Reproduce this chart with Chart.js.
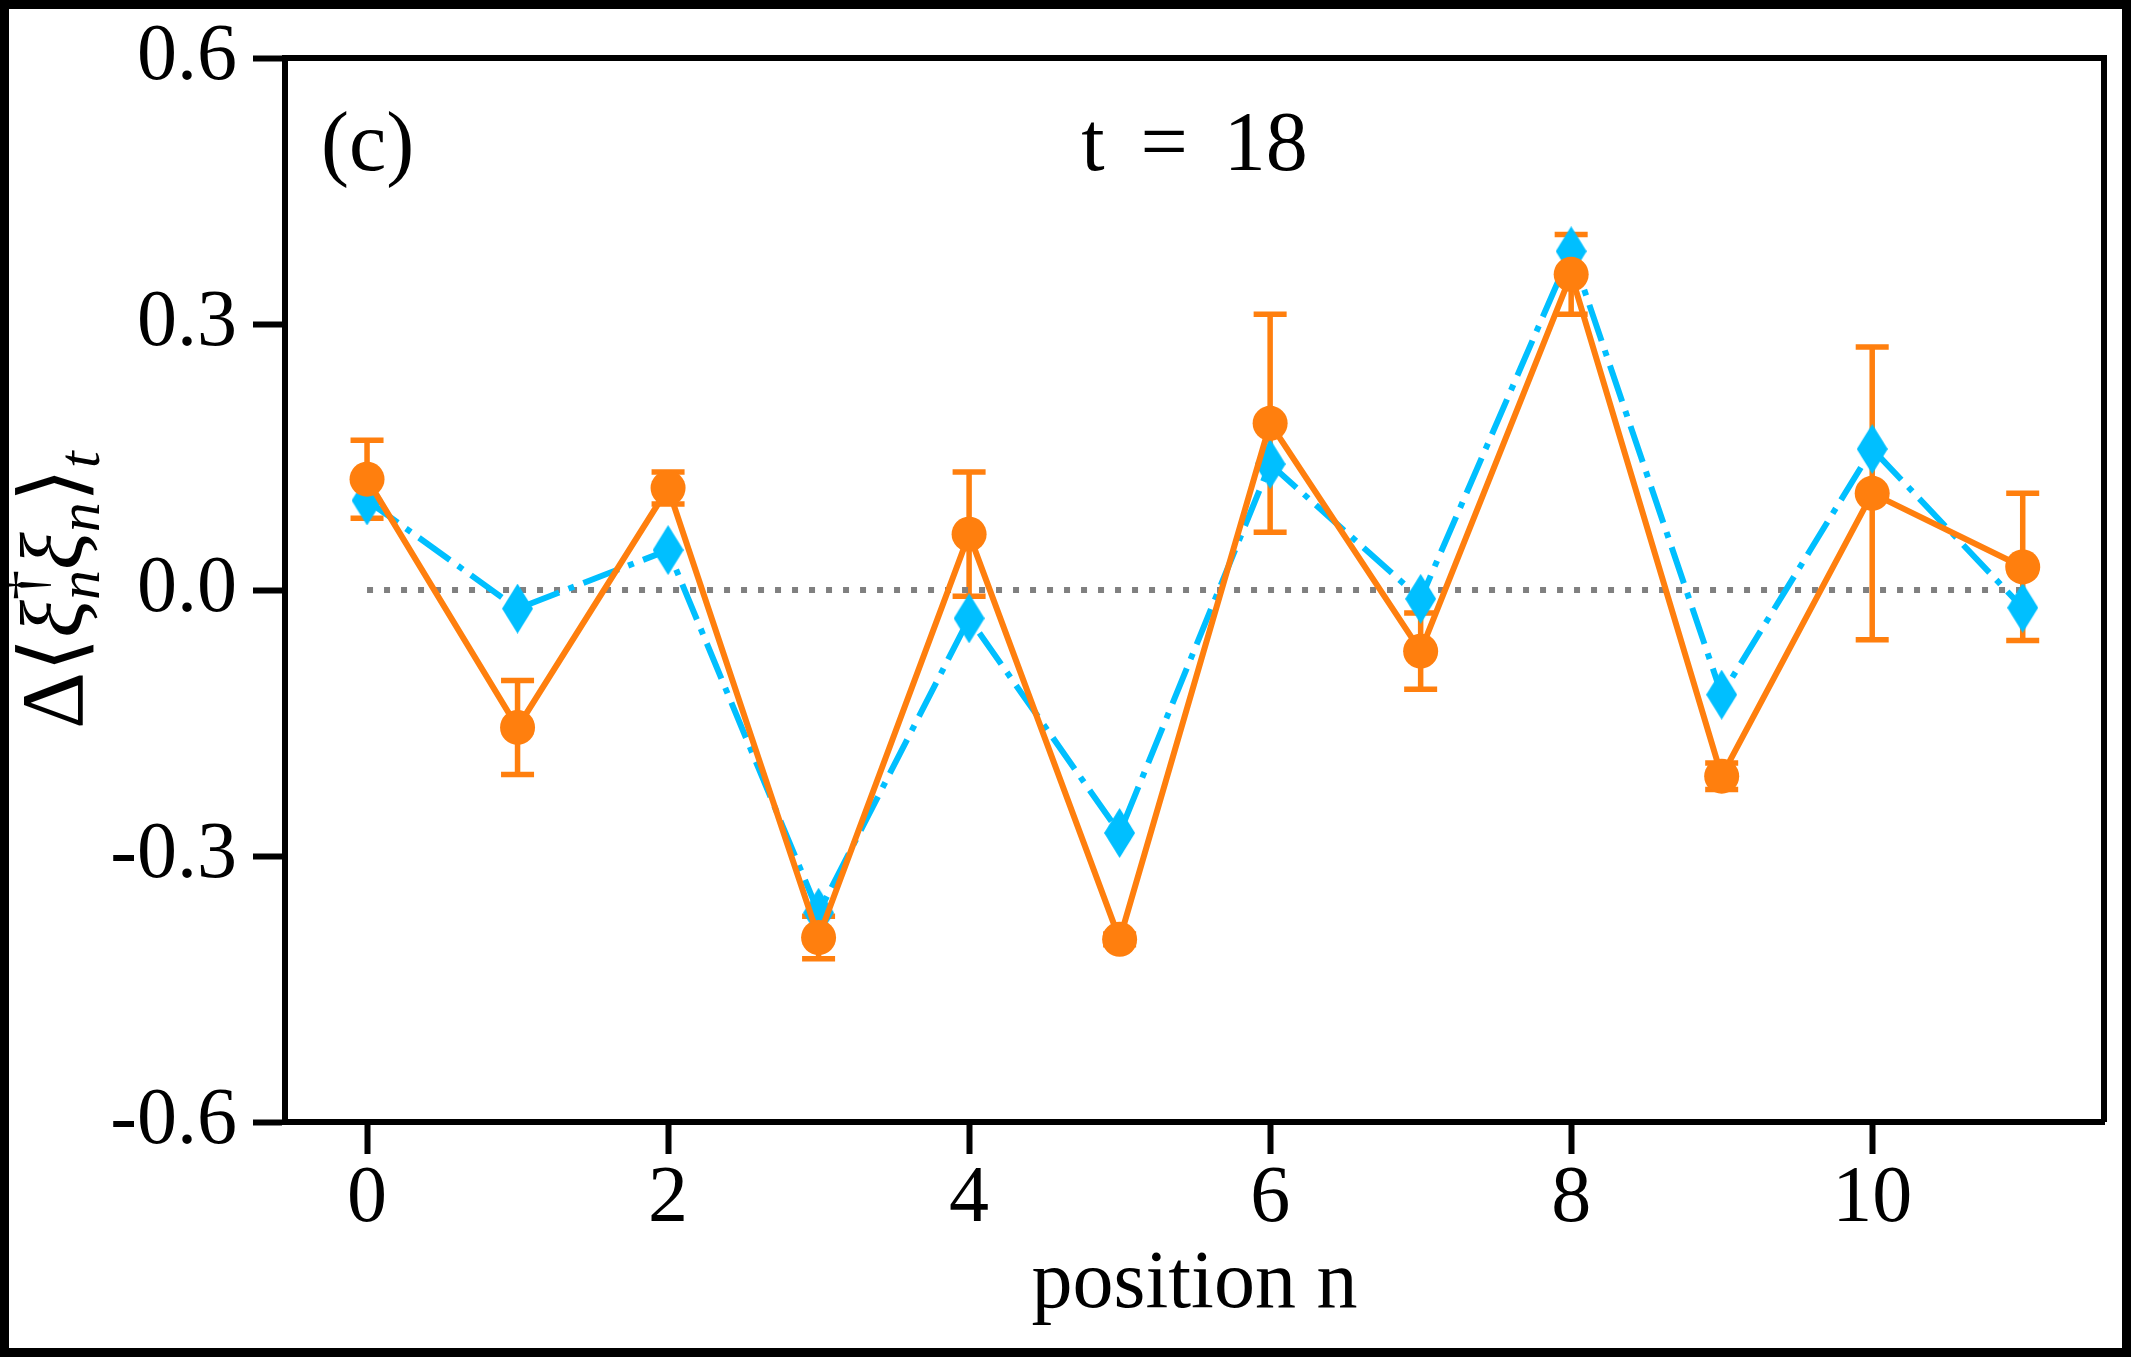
<!DOCTYPE html>
<html>
<head>
<meta charset="utf-8">
<script src="https://cdn.jsdelivr.net/npm/chart.js@4.4.1/dist/chart.umd.min.js"></script>
<style>
  html, body { margin: 0; padding: 0; background: #fff; }
  canvas { display: block; }
</style>
</head>
<body>
<canvas id="chart" width="2131" height="1357"></canvas>
<script>
// values
const positions = [0, 1, 2, 3, 4, 5, 6, 7, 8, 9, 10, 11]
const measured = [0.125, -0.155, 0.115, -0.392, 0.063, -0.394, 0.188, -0.069, 0.356, -0.210, 0.109, 0.026]
const measuredErr = [0.044, 0.053, 0.018, 0.024, 0.070, 0.006, 0.123, 0.043, 0.045, 0.015, 0.165, 0.083]
const theory = [0.101, -0.021, 0.045, -0.364, -0.032, -0.274, 0.142, -0.010, 0.382, -0.118, 0.159, -0.020]
const xTicks = [0, 2, 4, 6, 8, 10]
const yTicks = [-0.6, -0.3, 0.0, 0.3, 0.6]
const panelTag = '(c)'
const panelTitle = 't = 18'
const xTitle = 'position n'

const ORANGE = '#ff7f0e'
const BLUE = '#00bfff'
const SERIF = "'Liberation Serif', 'DejaVu Serif', serif"

let zip = (xs, ys) => xs.map((x, i) => ({x: x, y: ys[i]}))

// thin diamond marker ('d' style)
function diamond(w, h, color) {
	const c = document.createElement('canvas')
	c.width = w
	c.height = h
	const g = c.getContext('2d')
	g.fillStyle = color
	g.beginPath()
	g.moveTo(w / 2, 0)
	g.lineTo(w, h / 2)
	g.lineTo(w / 2, h)
	g.lineTo(0, h / 2)
	g.closePath()
	g.fill()
	return c
}

function drawYLabel(ctx, cx, cy) {
	const big = 88, small = 60
	const up = big + 'px ' + SERIF
	const it = 'italic ' + big + 'px ' + SERIF
	const sub = 'italic ' + small + 'px ' + SERIF
	const supUp = small + 'px ' + SERIF
	const parts = [
		[{t: 'Δ', f: up, dy: 0}],
		[{t: '⟨', f: up, dy: 0}],
		[{t: 'ξ', f: it, dy: 0}],
		[{t: '†', f: supUp, dy: -38}, {t: 'n', f: sub, dy: 17}],
		[{t: 'ξ', f: it, dy: 0}],
		[{t: 'n', f: sub, dy: 17}],
		[{t: '⟩', f: up, dy: 0}],
		[{t: 't', f: sub, dy: 17}]
	]
	ctx.save()
	ctx.translate(cx, cy)
	ctx.rotate(-Math.PI / 2)
	ctx.fillStyle = '#000'
	ctx.textBaseline = 'alphabetic'
	ctx.textAlign = 'left'
	const widths = parts.map(p => Math.max(...p.map(q => { ctx.font = q.f; return ctx.measureText(q.t).width })))
	let x0 = -widths.reduce((a, b) => a + b, 0) / 2
	parts.forEach((p, i) => {
		p.forEach(q => {
			ctx.font = q.f
			ctx.fillText(q.t, x0, q.dy)
		})
		x0 += widths[i]
	})
	ctx.restore()
}

// "t = 18" with math-like spacing round the "="
function drawSpaced(ctx, text, cx, baseline, gap) {
	const words = text.split(' ')
	const ws = words.map(w => ctx.measureText(w).width)
	const total = ws.reduce((a, b) => a + b, 0) + gap * (words.length - 1)
	let x0 = cx - total / 2
	ctx.textAlign = 'left'
	words.forEach((w, i) => {
		ctx.fillText(w, x0, baseline)
		x0 += ws[i] + gap
	})
}

const decorations = {
	id: 'decorations',
	beforeDatasetsDraw(chart) {
		const {ctx, chartArea: a, scales: {x, y}} = chart
		ctx.save()
		ctx.beginPath()
		ctx.rect(a.left, a.top, a.right - a.left, a.bottom - a.top)
		ctx.clip()
		ctx.strokeStyle = ORANGE
		ctx.lineWidth = 5.5
		positions.forEach((n, i) => {
			const px = x.getPixelForValue(n)
			const hi = y.getPixelForValue(measured[i] + measuredErr[i])
			const lo = y.getPixelForValue(measured[i] - measuredErr[i])
			ctx.beginPath()
			ctx.moveTo(px, hi); ctx.lineTo(px, lo)
			ctx.moveTo(px - 16.5, hi); ctx.lineTo(px + 16.5, hi)
			ctx.moveTo(px - 16.5, lo); ctx.lineTo(px + 16.5, lo)
			ctx.stroke()
		})
		ctx.restore()
	},
	afterDraw(chart) {
		const {ctx, chartArea: a, width, height} = chart
		ctx.save()
		// top and right spines
		ctx.strokeStyle = '#000'
		ctx.lineWidth = 6
		ctx.beginPath()
		ctx.moveTo(a.left, a.top)
		ctx.lineTo(a.right, a.top)
		ctx.lineTo(a.right, a.bottom)
		ctx.stroke()

		// panel texts
		ctx.fillStyle = '#000'
		ctx.font = '84px ' + SERIF
		ctx.textBaseline = 'alphabetic'
		ctx.textAlign = 'left'
		ctx.fillText(panelTag, a.left + 36, a.top + 112)
		drawSpaced(ctx, panelTitle, (a.left + a.right) / 2, a.top + 112, 36)

		drawYLabel(ctx, 82, (a.top + a.bottom) / 2)

		// outer frame
		ctx.lineWidth = 18
		ctx.strokeRect(0, 0, width, height)
		ctx.restore()
	}
}

const ctx = document.getElementById('chart')
const chart = new Chart(ctx, {
	type: 'scatter',
	data: {
		datasets: [{
			label: 'measured',
			data: zip(positions, measured),
			showLine: true,
			borderColor: ORANGE,
			borderWidth: 6,
			backgroundColor: ORANGE,
			pointRadius: 17.5,
			pointBorderWidth: 0,
			pointBackgroundColor: ORANGE,
			order: 0
		}, {
			label: 'theory',
			data: zip(positions, theory),
			showLine: true,
			borderColor: BLUE,
			borderWidth: 6,
			borderDash: [38, 10, 6, 10],
			pointStyle: diamond(31, 50, BLUE),
			pointRadius: 16,
			order: 1
		}, {
			label: 'zero',
			data: zip(positions, positions.map(() => 0)),
			showLine: true,
			borderColor: '#808080',
			borderWidth: 6,
			borderDash: [6, 11],
			pointRadius: 0,
			order: 2
		}]
	},
	options: {
		responsive: false,
		animation: false,
		layout: { padding: { top: 58, right: 27, left: 0, bottom: 0 } },
		plugins: { legend: { display: false }, tooltip: { enabled: false } },
		scales: {
			x: {
				type: 'linear',
				min: -0.545,
				max: 11.54,
				afterFit: s => { s.height = 235 },
				afterBuildTicks: s => { s.ticks = xTicks.map(v => ({value: v})) },
				border: { display: true, color: '#000', width: 6 },
				grid: { drawOnChartArea: false, drawTicks: true, tickLength: 32, tickWidth: 6, tickColor: '#000' },
				ticks: {
					color: '#000',
					padding: 6,
					maxRotation: 0,
					font: { family: SERIF, size: 80, lineHeight: 1 },
					callback: v => String(v)
				},
				title: {
					display: true,
					text: xTitle,
					color: '#000',
					font: { family: SERIF, size: 82, lineHeight: 1.2 },
					padding: { top: 0, bottom: 22 }
				}
			},
			y: {
				type: 'linear',
				min: -0.6,
				max: 0.6,
				afterFit: s => { s.width = 285 },
				afterBuildTicks: s => { s.ticks = yTicks.map(v => ({value: v})) },
				border: { display: true, color: '#000', width: 6 },
				grid: { drawOnChartArea: false, drawTicks: true, tickLength: 32, tickWidth: 6, tickColor: '#000' },
				ticks: {
					color: '#000',
					padding: 16,
					font: { family: SERIF, size: 80, lineHeight: 1 },
					callback: v => v.toFixed(1)
				}
			}
		}
	},
	plugins: [decorations]
})
</script>
</body>
</html>
